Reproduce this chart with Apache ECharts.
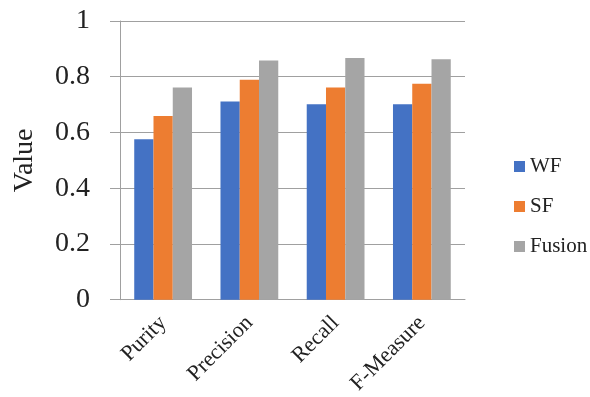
<!DOCTYPE html>
<html>
<head>
<meta charset="utf-8">
<script src="https://cdn.jsdelivr.net/npm/echarts@6/dist/echarts.min.js"></script>
<style>
html,body{margin:0;padding:0;background:#fff;}
#chart{width:590px;height:397px;}
</style>
</head>
<body>
<div id="chart"></div>
<script>
var categories = ['Purity', 'Precision', 'Recall', 'F-Measure'];
var wfValues = [0.576, 0.711, 0.701, 0.701];
var sfValues = [0.659, 0.789, 0.761, 0.775];
var fusionValues = [0.761, 0.858, 0.867, 0.863];
var yTicks = [0, 0.2, 0.4, 0.6, 0.8, 1];

var serif = '"Liberation Serif", "DejaVu Serif", serif';
var chart = echarts.init(document.getElementById('chart'), null, {renderer: 'canvas'});
chart.setOption({
  animation: false,
  color: ['#4472C4', '#ED7D31', '#A5A5A5'],
  grid: {left: 120, right: 125, top: 21, bottom: 97, containLabel: false},
  legend: {
    orient: 'vertical',
    left: 509,
    top: 151,
    itemWidth: 11,
    itemHeight: 11,
    itemGap: 19,
    icon: 'rect',
    textStyle: {fontFamily: serif, fontSize: 21, color: '#222'},
    data: ['WF', 'SF', 'Fusion']
  },
  xAxis: {
    type: 'category',
    data: categories,
    axisLine: {show: true, lineStyle: {color: '#a0a0a0', width: 1}},
    axisTick: {show: false},
    axisLabel: {rotate: 45, fontFamily: serif, fontSize: 22, color: '#222', margin: 20, interval: 0}
  },
  yAxis: {
    type: 'value',
    min: yTicks[0],
    max: yTicks[yTicks.length - 1],
    interval: 0.2,
    name: 'Value',
    nameLocation: 'middle',
    nameGap: 81,
    nameRotate: 90,
    nameTextStyle: {fontFamily: serif, fontSize: 28, color: '#222'},
    axisLine: {show: true, lineStyle: {color: '#a0a0a0', width: 1}},
    axisTick: {show: true, inside: false, length: 10, lineStyle: {color: '#a0a0a0'}},
    splitLine: {show: true, lineStyle: {color: '#a0a0a0', width: 1}},
    axisLabel: {fontFamily: serif, fontSize: 28, color: '#222', margin: 30,
      formatter: function (v) { return String(Math.round(v * 10) / 10); }}
  },
  series: [
    {name: 'WF', type: 'bar', data: wfValues, barGap: '0%', barCategoryGap: '33%'},
    {name: 'SF', type: 'bar', data: sfValues, barGap: '0%', barCategoryGap: '33%'},
    {name: 'Fusion', type: 'bar', data: fusionValues, barGap: '0%', barCategoryGap: '33%'}
  ]
});
</script>
</body>
</html>
